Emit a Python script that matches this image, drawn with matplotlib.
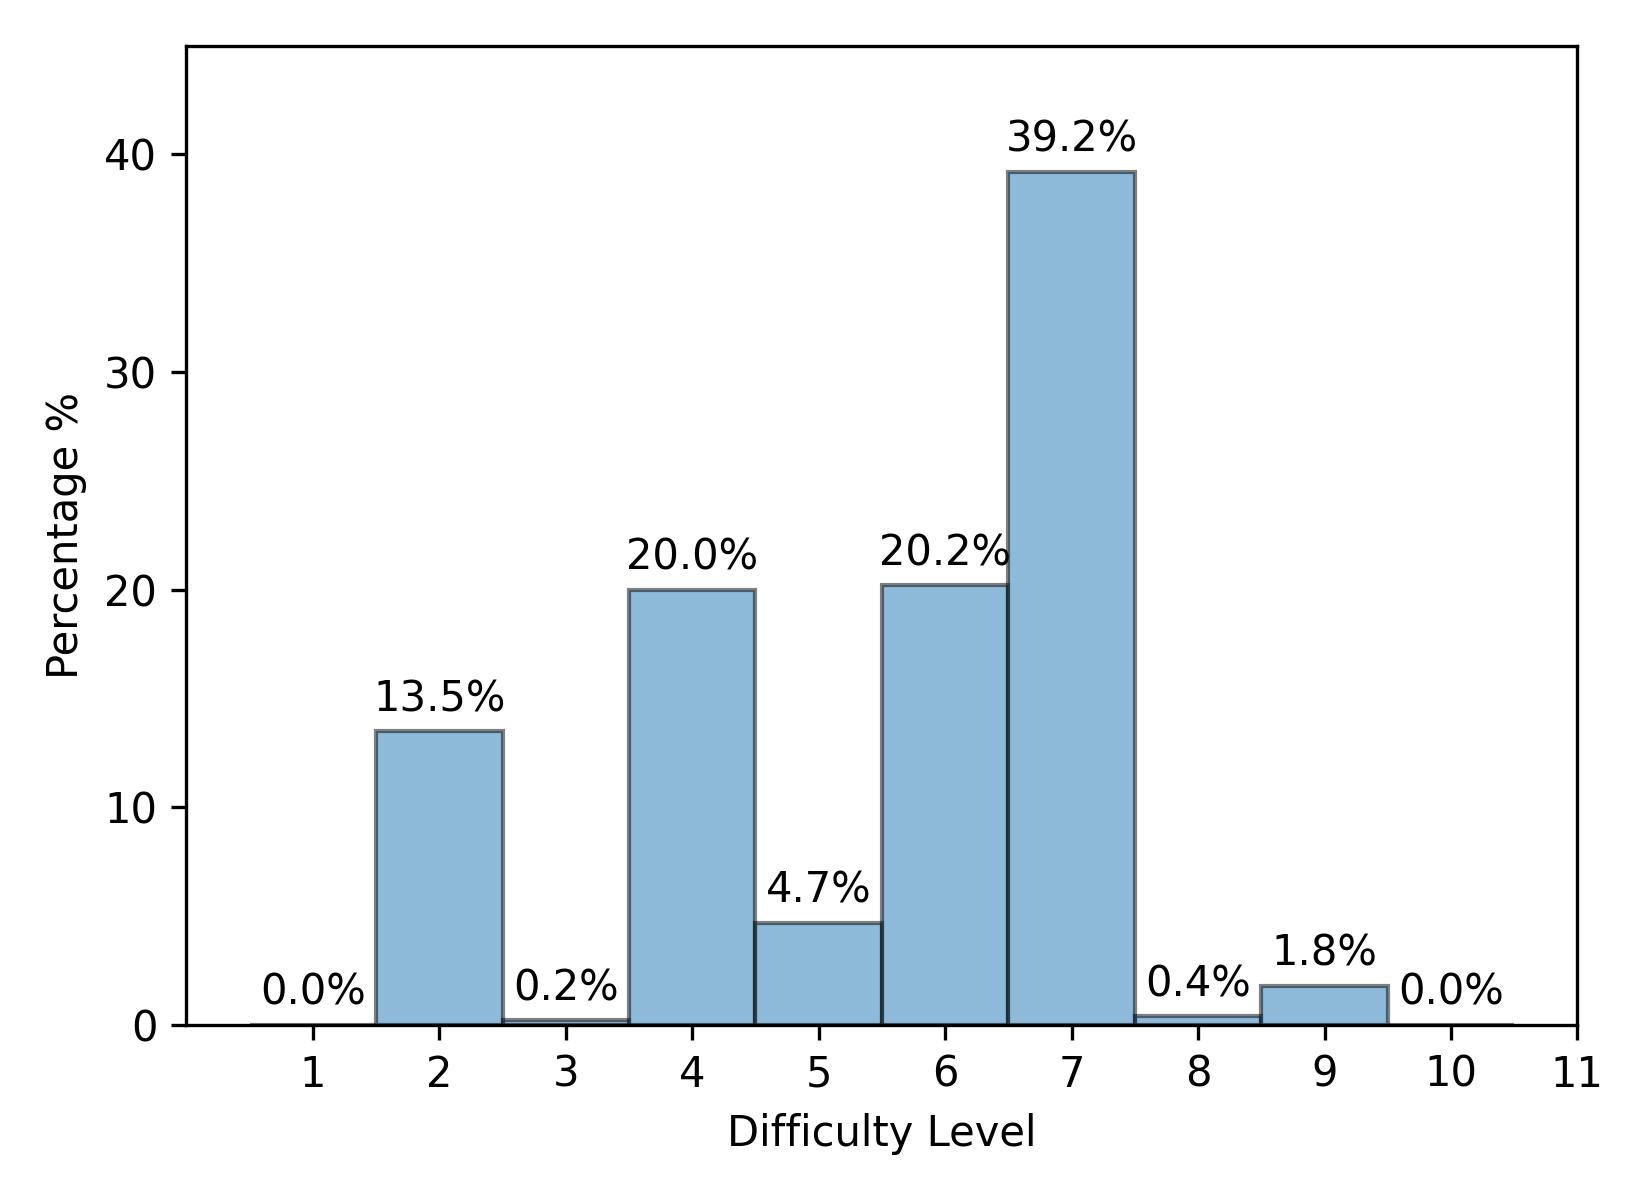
import numpy as np
import matplotlib
matplotlib.use("Agg")
import matplotlib.pyplot as plt

levels = np.arange(1, 11)
percent = [0.0, 13.5, 0.2, 20.0, 4.7, 20.2, 39.2, 0.4, 1.8, 0.0]

fig, ax = plt.subplots(figsize=(5.5, 4), dpi=300)
fig.subplots_adjust(left=0.113, right=0.956, top=0.962, bottom=0.146)

bars = ax.bar(levels, percent, width=1.0, color="C0", alpha=0.5, edgecolor="black")

for x, v in zip(levels, percent):
    ax.text(x, v + 0.5, f"{v:.1f}%", ha="center", va="bottom", fontsize=10)

ax.set_xlim(0, 11)
ax.set_ylim(0, 45)
ax.set_xticks(np.arange(1, 12))
ax.set_yticks(np.arange(0, 41, 10))
ax.set_xlabel("Difficulty Level")
ax.set_ylabel("Percentage %")

fig.savefig("out.png", dpi=300)
